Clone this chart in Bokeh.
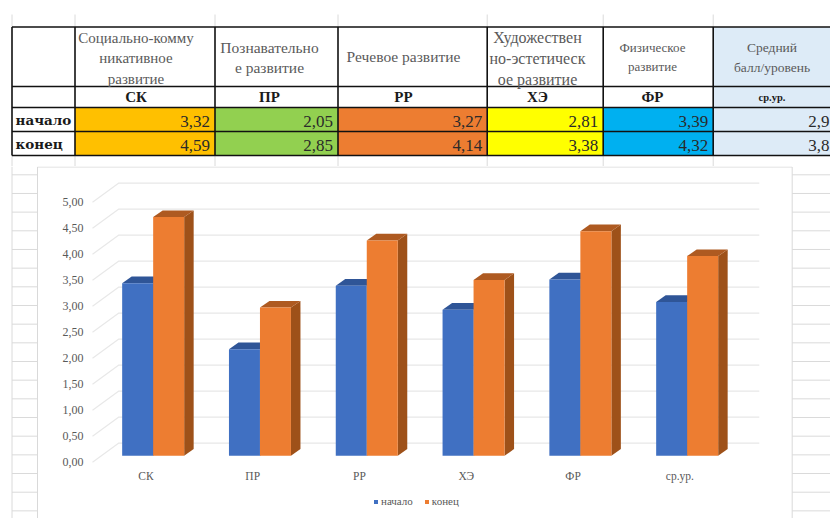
from bokeh.embed import file_html
from bokeh.resources import INLINE
from bokeh.plotting import figure
from bokeh.layouts import column
from bokeh.models import LinearAxis, FixedTicker, Legend, LegendItem
from bokeh.core.properties import value

# ---------- data ----------
categories = ["СК", "ПР", "РР", "ХЭ", "ФР", "ср.ур."]
series_names = ["начало", "конец"]
start_values = [3.32, 2.05, 3.27, 2.81, 3.39, 2.96]
end_values = [4.59, 2.85, 4.14, 3.38, 4.32, 3.84]
start_cells = ["3,32", "2,05", "3,27", "2,81", "3,39", "2,9"]
end_cells = ["4,59", "2,85", "4,14", "3,38", "4,32", "3,8"]
y_ticks = [0, 0.5, 1, 1.5, 2, 2.5, 3, 3.5, 4, 4.5, 5]
y_tick_labels = ["0,00", "0,50", "1,00", "1,50", "2,00", "2,50", "3,00", "3,50", "4,00", "4,50", "5,00"]
headers = [
    ["Социально-комму", "никативное", "развитие"],
    ["Познавательно", "е развитие"],
    ["Речевое развитие"],
    ["Художествен", "но-эстетическ", "ое развитие"],
    ["Физическое", "развитие"],
    ["Средний", "балл/уровень"],
]
header_sizes = ["15px", "15.5px", "15.5px", "16px", "13px", "13.5px"]
code_sizes = ["15px", "15px", "15px", "15px", "15px", "10.5px"]
cell_colors = ["#FFC000", "#92D050", "#ED7D31", "#FFFF00", "#00B0F0", "#DDEBF7"]

# ---------- page layout (pixels on the page) ----------
SERIF = value("Liberation Serif")
PAGE_L, PAGE_R, PAGE_T, SPLIT, PAGE_B = 0, 830, 0, 166, 518
col_x = [11.5, 74.5, 214.5, 337.5, 486.7, 602.7, 712.7, 832]
row_y = [26.5, 86, 107, 131, 155]
text_cx = [135.5, 269, 403, 537, 652, 771.5]
line_steps = [20.5, 20, 0, 21, 19, 20]
text_mid = [57.5, 56.5, 56, 57.5, 56.5, 57]

# ---------- table ----------
t = figure(width=PAGE_R - PAGE_L, height=SPLIT - PAGE_T, x_range=(PAGE_L, PAGE_R),
           y_range=(SPLIT, PAGE_T), toolbar_location=None, output_backend="svg",
           min_border=0, outline_line_color=None)
t.axis.visible = False
t.grid.visible = False

# faint spreadsheet grid above and below the table
for x in col_x[:-1]:
    t.line([x, x], [14, row_y[0]], line_color="#DADADA", line_width=1)
    t.line([x, x], [row_y[-1], SPLIT], line_color="#DADADA", line_width=1)

# coloured value cells and the pale last column
t.quad(left=col_x[1:-1], right=col_x[2:], top=[row_y[2]] * 6, bottom=[row_y[3]] * 6,
       fill_color=cell_colors, line_color=None)
t.quad(left=col_x[1:-1], right=col_x[2:], top=[row_y[3]] * 6, bottom=[row_y[4]] * 6,
       fill_color=cell_colors, line_color=None)
t.quad(left=[col_x[6]], right=[col_x[7]], top=[row_y[0]], bottom=[row_y[2]],
       fill_color="#DDEBF7", line_color=None)

# black rules
for x in col_x[:-1]:
    t.line([x, x], [row_y[0], row_y[-1]], line_color="#111111", line_width=1.6)
for y in row_y:
    t.line([col_x[0], PAGE_R], [y, y], line_color="#111111", line_width=1.6)

# header text
for i, lines in enumerate(headers):
    first = text_mid[i] - line_steps[i] * (len(lines) - 1) / 2
    for k, line in enumerate(lines):
        t.text([text_cx[i]], [first + k * line_steps[i]], text=[line], text_align="center",
               text_baseline="middle", text_font=SERIF, text_font_size=header_sizes[i],
               text_color="#5A5A5A")
    t.text([text_cx[i]], [(row_y[1] + row_y[2]) / 2], text=[categories[i]], text_align="center",
           text_baseline="middle", text_font=SERIF, text_font_size=code_sizes[i],
           text_font_style="bold", text_color="#1A1A1A")

# row labels
for name, y0, y1 in zip(series_names, row_y[2:4], row_y[3:5]):
    t.text([15], [(y0 + y1) / 2], text=[name], text_align="left", text_baseline="middle",
           text_font=value("DejaVu Serif"), text_font_size="13.5px", text_font_style="bold",
           text_color="#1A1A1A")

# values
for vals, y0, y1 in ((start_cells, row_y[2], row_y[3]), (end_cells, row_y[3], row_y[4])):
    for i, s in enumerate(vals):
        t.text([col_x[i + 2] - 5 if i < 5 else PAGE_R - 1], [(y0 + y1) / 2 + 1.5], text=[s], text_align="right",
               text_baseline="middle", text_font=SERIF, text_font_size="17px", text_color="#2A2A2A")

# ---------- chart ----------
PX_CAT = 106.8      # pixels per category
PX_UNIT = 52.0      # pixels per unit of value
X0 = 92.0           # page x of category coordinate 0 on the front plane
Y0 = 461.7          # page y of value 0 on the front plane


def data_x(px):
    return (px - X0) / PX_CAT


def data_y(py):
    return (Y0 - py) / PX_UNIT


c = figure(width=PAGE_R - PAGE_L, height=PAGE_B - SPLIT,
           x_range=(data_x(PAGE_L), data_x(PAGE_R)), y_range=(data_y(PAGE_B), data_y(SPLIT)),
           toolbar_location=None, output_backend="svg", min_border=0, outline_line_color=None,
           x_axis_location=None, y_axis_location=None)
c.grid.visible = False

# spreadsheet grid outside the chart panel
for k in range(19):
    yy = data_y(174.3 + k * 18.67)
    c.line([data_x(11.5), data_x(PAGE_R)], [yy, yy], line_color="#DADADA", line_width=1)
c.line([data_x(11.5)] * 2, [data_y(SPLIT), data_y(PAGE_B)], line_color="#DADADA", line_width=1)

# chart panel
c.quad(left=[data_x(37)], right=[data_x(791.7)], top=[data_y(166.5)], bottom=[data_y(PAGE_B + 5)],
       fill_color="white", line_color="#D9D9D9", line_width=1)

# pseudo-3D walls
WALL_DX, WALL_DY = 26 / PX_CAT, 19 / PX_UNIT
wall_right = len(categories) + WALL_DX
for v in y_ticks:
    c.line([0, WALL_DX, wall_right], [v, v + WALL_DY, v + WALL_DY], line_color="#E8E8E8", line_width=1.2)

# bars
BAR_W = 31 / PX_CAT
SHIFT = 0.068
BASE = 6.4 / PX_UNIT
DEPTH_X, DEPTH_Y = 9.5 / PX_CAT, 6.7 / PX_UNIT
styles = [("#4070C2", "#2F5597", "#2F5597"), ("#ED7D31", "#AE5A21", "#9E5119")]
legend_items = []
for s, (vals, (front, top, side)) in enumerate(zip((start_values, end_values), styles)):
    lefts = [i + 0.5 + SHIFT - BAR_W + s * BAR_W for i in range(len(vals))]
    tops = [v + BASE for v in vals]
    c.patches([[l + BAR_W, l + BAR_W + DEPTH_X, l + BAR_W + DEPTH_X, l + BAR_W] for l in lefts],
              [[BASE, BASE + DEPTH_Y, u + DEPTH_Y, u] for u in tops],
              fill_color=side, line_color=None)
    c.patches([[l, l + DEPTH_X, l + BAR_W + DEPTH_X, l + BAR_W] for l in lefts],
              [[u, u + DEPTH_Y, u + DEPTH_Y, u] for u in tops],
              fill_color=top, line_color=None)
    r = c.vbar(x=[l + BAR_W / 2 for l in lefts], width=BAR_W, bottom=BASE, top=tops,
               fill_color=front, line_color=None)
    legend_items.append(LegendItem(label=series_names[s], renderers=[r]))

# axes drawn inside the frame
yax = LinearAxis(fixed_location=0, ticker=FixedTicker(ticks=y_ticks),
                 major_label_overrides=dict(zip(y_ticks, y_tick_labels)),
                 axis_line_color=None, major_tick_line_color=None, minor_tick_line_color=None,
                 major_tick_out=0, major_tick_in=0, minor_tick_out=0, minor_tick_in=0,
                 major_label_standoff=9, major_label_text_font="Liberation Serif",
                 major_label_text_font_size="12px", major_label_text_color="#595959")
c.add_layout(yax, "left")
x_positions = [i + 0.5 for i in range(len(categories))]
xax = LinearAxis(fixed_location=0, ticker=FixedTicker(ticks=x_positions),
                 major_label_overrides=dict(zip(x_positions, categories)),
                 axis_line_color=None, major_tick_line_color=None, minor_tick_line_color=None,
                 major_tick_out=0, major_tick_in=0, minor_tick_out=0, minor_tick_in=0,
                 major_label_standoff=8, major_label_text_font="Liberation Serif",
                 major_label_text_font_size="11.5px", major_label_text_color="#595959")
c.add_layout(xax, "below")

legend = Legend(items=legend_items, orientation="horizontal", location=(373, 11),
                background_fill_alpha=0, border_line_color=None, glyph_width=5, glyph_height=5,
                label_text_font="Liberation Serif", label_text_font_size="11px",
                label_text_color="#595959", spacing=11, label_standoff=3, padding=4, margin=0)
c.add_layout(legend, "center")

page = column(t, c, spacing=0)
open("out.html", "w").write(file_html(page, INLINE))
